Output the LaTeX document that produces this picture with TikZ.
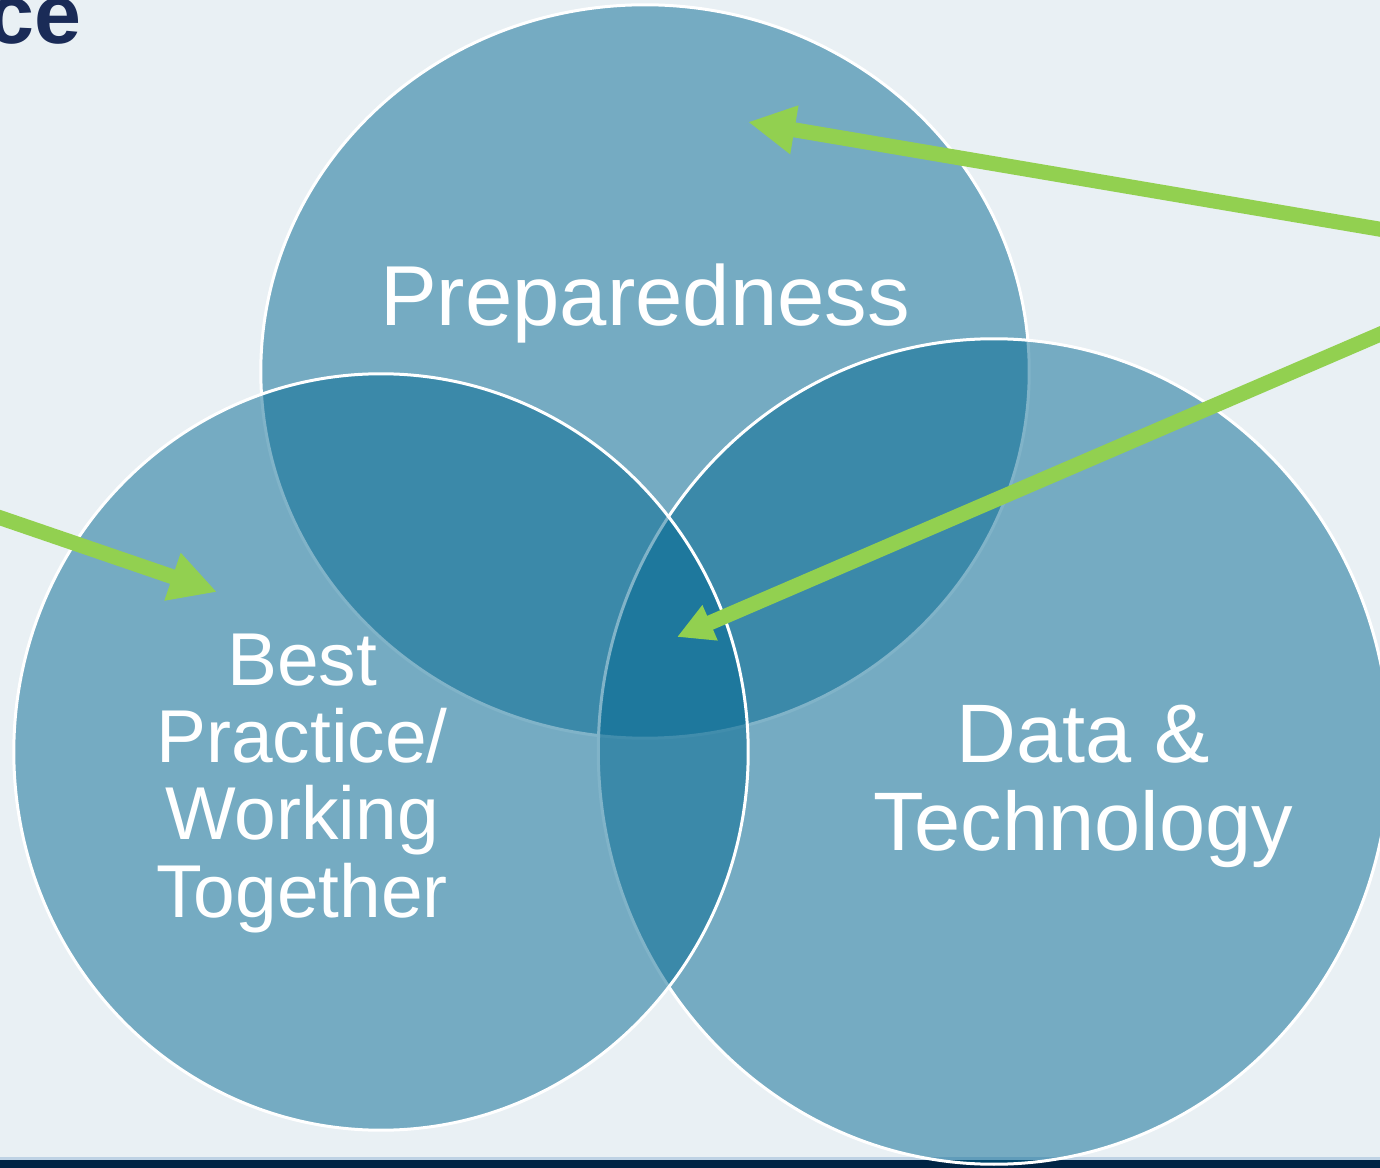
\documentclass[tikz,border=0pt]{standalone}
\usepackage{fontspec}
\setmainfont{Liberation Sans}
\usetikzlibrary{shapes.geometric,arrows.meta}
\definecolor{fond}{RGB}{233,240,244}
\definecolor{bleu}{RGB}{3,104,146}
\definecolor{vert}{RGB}{146,208,80}
\definecolor{marine}{RGB}{0,36,68}
\definecolor{titre}{RGB}{26,43,87}
\definecolor{filet}{RGB}{190,210,228}

\begin{document}
\begin{tikzpicture}[x=0.01cm,y=-0.01cm,
  cercle/.style={ellipse, draw=white, line width=0.03cm, fill=bleu, fill opacity=0.5, inner sep=0},
  texte/.style={text=white, align=center, inner sep=0},
  fleche/.style={draw=vert, line width=0.15cm}]
%Fond
\useasboundingbox[fill=fond] (0,0) rectangle (1380,1168);
\fill[filet] (0,1157) rectangle (1380,1160);
\fill[marine] (0,1160) rectangle (1380,1168);
\node[anchor=base east, inner sep=0, text=titre, font=\fontsize{24}{28}\bfseries\selectfont] (titre) at (82,44) {ce};

%Cercles
\node[cercle, minimum width=7.68cm, minimum height=7.33cm] (prep) at (645,371.5) {};
\node[cercle, minimum width=7.91cm, minimum height=8.25cm] (data) at (994,751.5) {};
\node[cercle, minimum width=7.34cm, minimum height=7.56cm] (best) at (381,752) {};

%Textes
\node[texte, anchor=base, font=\fontsize{24.2}{28}\selectfont] (tprep) at (645,326) {Preparedness};
\node[texte, anchor=base, font=\fontsize{23.6}{24.75}\selectfont] (tdata) at (1083,850) {Data \&\\Technology};
\node[texte, anchor=base, font=\fontsize{21.3}{21.9}\selectfont] (tbest) at (302,917) {Best\\Practice/\\Working\\Together};

%Fleches
\coordinate (d1) at (1420,236);
\coordinate (d2) at (1420,317);
\coordinate (d3) at (-40,504);
\coordinate (c1) at (748,122);
\coordinate (c2) at (677,637);
\coordinate (c3) at (217,592);
\draw[fleche, -{Triangle[length=0.47cm, width=0.46cm]}] (d1) -- (c1);
\draw[fleche, -{Triangle[length=0.36cm, width=0.36cm]}] (d2) -- (c2);
\draw[fleche, -{Triangle[length=0.47cm, width=0.47cm]}] (d3) -- (c3);

\end{tikzpicture}
\end{document}
